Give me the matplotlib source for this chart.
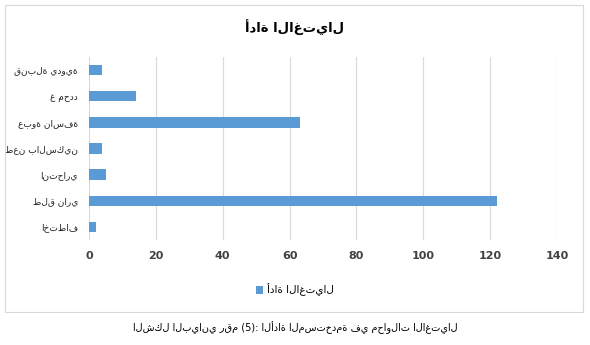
import matplotlib
matplotlib.use("Agg")
import matplotlib.pyplot as plt
from matplotlib.patches import Rectangle

categories = ["اختطاف", "طلق ناري", "انتحاري", "طعن بالسكين", "عبوة ناسفة", "غ محدد", "قنبلة يدوية"]
values = [2, 122, 5, 4, 63, 14, 4]
xticks = [0, 20, 40, 60, 80, 100, 120, 140]
title = "أداة الاغتيال"
series_name = "أداة الاغتيال"
caption = "الشكل البياني رقم (5): الأداة المستخدمة في محاولات الاغتيال"

plt.rcParams['font.family'] = ['DejaVu Sans']
fig = plt.figure(figsize=(5.9, 3.45), dpi=100)
fig.patch.set_facecolor('white')
ax = fig.add_axes([89/590, 1-240/345, (557-89)/590, (240-57)/345])
y = range(len(categories))
ax.barh(y, values, height=0.4, color='#5B9BD5', label=series_name, zorder=3)
ax.set_xlim(0, 140)
ax.set_ylim(-0.5, len(categories)-0.5)
ax.set_xticks(xticks)
ax.set_xticklabels([str(t) for t in xticks], fontsize=8, fontweight='bold', color='#404040')
ax.set_yticks(list(y))
ax.set_yticklabels(categories, fontsize=6.5, color='#222222')
ax.grid(axis='x', color='#D9D9D9', linewidth=0.8, zorder=0)
for s in ax.spines.values():
    s.set_visible(False)
ax.tick_params(axis='x', length=0, pad=8)
ax.tick_params(axis='y', length=0, pad=8)

fig.text(0.5, 1-27/345, title, ha='center', va='center', fontsize=9.5, fontweight='bold')
fig.patches.append(Rectangle((5/590, 1-312/345), 578/590, 307/345, transform=fig.transFigure,
                             fill=False, edgecolor='#D9D9D9', linewidth=0.8))
leg = fig.legend(loc='center', bbox_to_anchor=(0.5, 1-290/345), frameon=False, fontsize=7.5,
                 handlelength=0.7, handleheight=0.7, handletextpad=0.4)
fig.text(0.5, 1-328/345, caption, ha='center', va='center', fontsize=7)
fig.savefig('out.png', dpi=100)
